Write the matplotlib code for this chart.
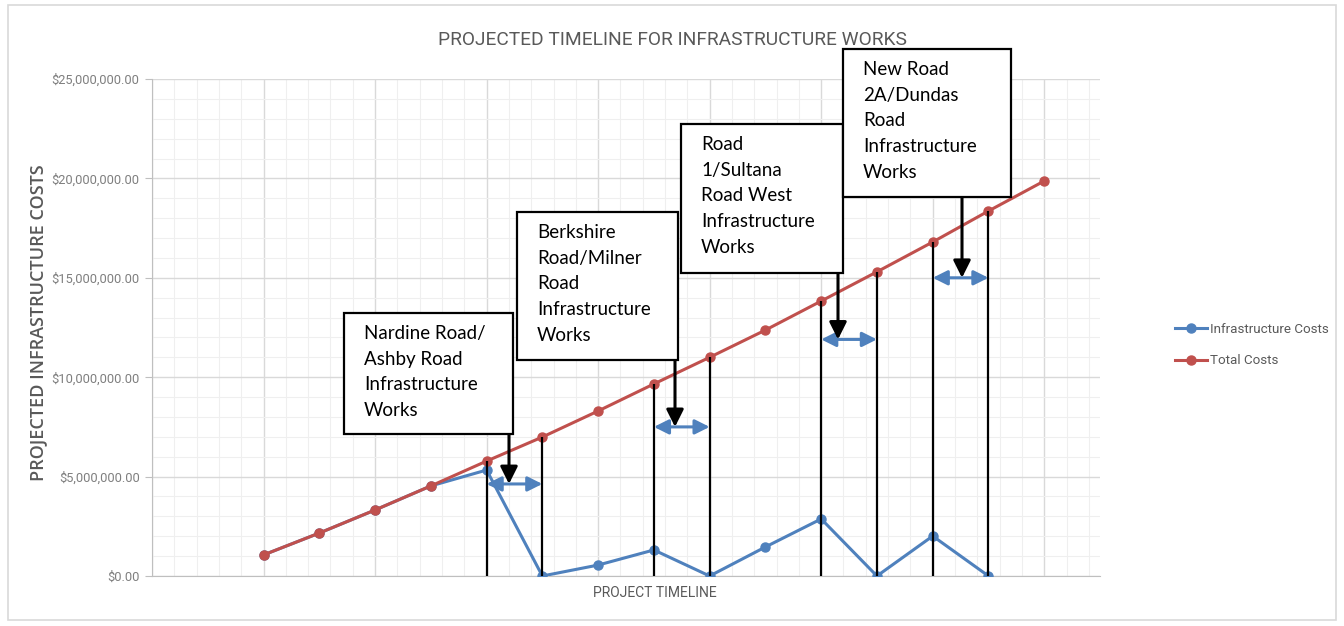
import numpy as np
import matplotlib
matplotlib.use('Agg')
import matplotlib.pyplot as plt
from matplotlib.patches import Rectangle
from matplotlib.ticker import MultipleLocator, FuncFormatter
from matplotlib.transforms import blended_transform_factory

# Datos (en millones de dólares)
periodos = list(range(1, 16))
costos_totales = [1.06, 2.16, 3.32, 4.53, 5.78, 6.99, 8.30, 9.66, 11.0,
                  12.37, 13.83, 15.30, 16.80, 18.36, 19.87]
costos_infra = [1.06, 2.16, 3.32, 4.53, 5.33, 0.0, 0.55, 1.31, 0.0,
                1.46, 2.87, 0.0, 2.01, 0.0, np.nan]

# Fases de obra: periodo inicial, periodo final, nivel de la flecha (M$)
fases_inicio = [5, 8, 11, 13]
fases_fin = [6, 9, 12, 14]
niveles_flecha = [4.63, 7.5, 11.9, 15.0]
fases_texto = ["Nardine Road/\nAshby Road\nInfrastructure\nWorks",
               "Berkshire\nRoad/Milner\nRoad\nInfrastructure\nWorks",
               "Road\n1/Sultana\nRoad West\nInfrastructure\nWorks",
               "New Road\n2A/Dundas\nRoad\nInfrastructure\nWorks"]

AZUL = '#4f81bd'
ROJO = '#c0504d'
GRIS = '#595959'
GRIS_CLARO = '#7f7f7f'
FUENTE = ['Roboto', 'DejaVu Sans']
W, H = 1344, 626


def px(x, y):
    # píxeles de la imagen -> fracción de figura
    return x / W, 1 - y / H


fig = plt.figure(figsize=(W / 100, H / 100), dpi=100)
ax = fig.add_axes([152 / W, 1 - 576 / H, (1100 - 152) / W, (576 - 79) / H])

# marco exterior
fig.patches.append(Rectangle(px(8, 620), (1336 - 8) / W, (620 - 5) / H,
                             transform=fig.transFigure, fill=False,
                             edgecolor='#d9d9d9', lw=1.2))

ax.set_xlim(-1, 16)
ax.set_ylim(0, 25)
ax.set_xticks(np.arange(-1, 17, 2))
ax.set_xticks(np.arange(-1, 16.01, 0.4), minor=True)
ax.yaxis.set_major_locator(MultipleLocator(5))
ax.yaxis.set_minor_locator(MultipleLocator(1))
ax.grid(True, which='major', color='#d9d9d9', lw=1.0)
ax.grid(True, which='minor', color='#efefef', lw=0.8)
ax.set_axisbelow(True)
ax.tick_params(axis='x', which='both', length=0, labelbottom=False)
ax.tick_params(axis='y', which='major', length=5, color='#bfbfbf', pad=4,
               labelsize=9.3, labelcolor=GRIS_CLARO)
ax.tick_params(axis='y', which='minor', length=0)
ax.yaxis.set_major_formatter(FuncFormatter(lambda v, p: f'${v * 1e6:,.2f}'))
for lab in ax.get_yticklabels():
    lab.set_family(FUENTE)
for s in ['top', 'right']:
    ax.spines[s].set_visible(False)
ax.spines['left'].set_color('#bfbfbf')
ax.spines['bottom'].set_color('#bfbfbf')

# series
ax.plot(periodos, costos_infra, color=AZUL, lw=2.2, marker='o', ms=6.5,
        label='Infrastructure Costs', zorder=3)
ax.plot(periodos, costos_totales, color=ROJO, lw=2.2, marker='o', ms=6.5,
        label='Total Costs', zorder=4)

# líneas verticales de cada fase
limites = fases_inicio + fases_fin
ax.vlines(limites, 0, [costos_totales[p - 1] for p in limites],
          color='black', lw=1.6, zorder=5)

# flechas dobles azules
for a, b, nivel in zip(fases_inicio, fases_fin, niveles_flecha):
    ax.annotate('', xy=(a, nivel), xytext=(b, nivel),
                arrowprops=dict(arrowstyle='<|-|>', color=AZUL, lw=2.2,
                                mutation_scale=22, shrinkA=0, shrinkB=0),
                zorder=6)

# cajas de texto (píxeles de la imagen)
mixto = blended_transform_factory(fig.transFigure, ax.transData)
cajas = [(344, 313, 513, 434), (517, 212, 678, 360),
         (681, 124, 843, 273), (843, 49, 1011, 197)]
flecha_x = [509, 675, 838, 962]
for (x0, y0, x1, y1), texto, fx, nivel in zip(cajas, fases_texto, flecha_x,
                                               niveles_flecha):
    fig.patches.append(Rectangle(px(x0, y1), (x1 - x0) / W, (y1 - y0) / H,
                                 transform=fig.transFigure, facecolor='white',
                                 edgecolor='black', lw=1.6, zorder=7))
    tx, ty = px(x0 + 20, y0 + 12)
    fig.text(tx, ty, texto, ha='left', va='top', fontsize=13.5,
             family='Lato', linespacing=1.62, color='black', zorder=8)
    ax.annotate('', xy=(fx / W, nivel), xycoords=mixto,
                xytext=px(fx, y1), textcoords='figure fraction',
                arrowprops=dict(arrowstyle='-|>', color='black', lw=2.2,
                                mutation_scale=26, shrinkA=0, shrinkB=0),
                zorder=8)

# textos
fig.text(672 / W, 1 - 40 / H, 'PROJECTED TIMELINE FOR INFRASTRUCTURE WORKS',
         ha='center', va='center', fontsize=13.8, color=GRIS, family=FUENTE)
fig.text(655 / W, 1 - 593 / H, 'PROJECT TIMELINE', ha='center', va='center',
         fontsize=10, color=GRIS, family=FUENTE)
fig.text(38 / W, 1 - 323 / H, 'PROJECTED INFRASTRUCTURE COSTS', rotation=90,
         ha='center', va='center', fontsize=13, color=GRIS, fontweight='semibold',
         family=['Open Sans', 'DejaVu Sans'])

leg = ax.legend(loc='center left', bbox_to_anchor=px(1163, 345),
                bbox_transform=fig.transFigure, frameon=False,
                handlelength=2.4, labelspacing=1.4, handletextpad=0.2,
                prop={'family': FUENTE, 'size': 9.6})
for t in leg.get_texts():
    t.set_color(GRIS)

fig.savefig('out.png', dpi=100)
